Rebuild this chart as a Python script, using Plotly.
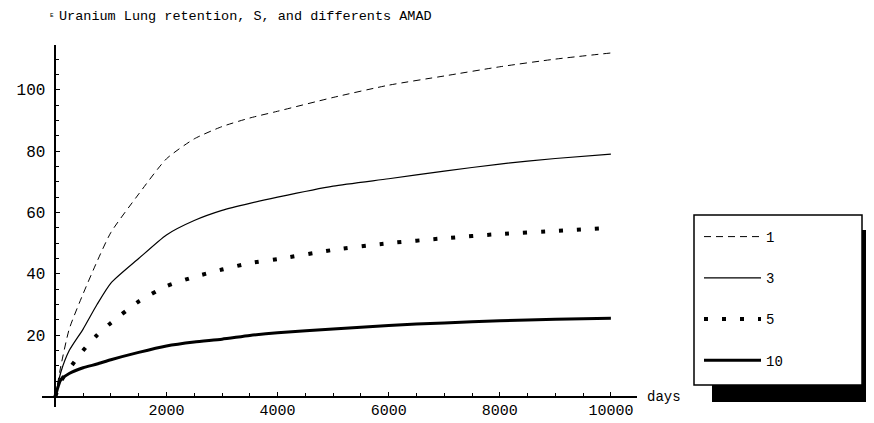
import plotly.graph_objects as go

days = [0, 100, 250, 500, 750, 1000, 1500, 2000, 2500, 3000, 3500, 4000, 5000, 6000, 7000, 8000, 9000, 10000]
amad_1 = [0, 10, 22, 33.5, 44, 53.5, 66, 77.5, 84, 88, 90.8, 93, 97.5, 101.5, 104.5, 107.5, 110, 112]
amad_3 = [0, 8, 15, 22, 30, 37, 45, 52.7, 57.4, 60.7, 63, 65, 68.6, 71, 73.5, 75.8, 77.6, 79]
amad_5 = [0, 5, 9, 15, 20, 24, 31, 36, 39, 41.4, 43.5, 44.8, 47.8, 50, 51.6, 53, 54, 55]
amad_10 = [0, 5.5, 7.5, 9.4, 10.6, 12, 14.4, 16.5, 17.8, 18.7, 19.9, 20.8, 22, 23.2, 24, 24.7, 25.2, 25.5]

x_ticks = [2000, 4000, 6000, 8000, 10000]
x_tick_text = ["2000", "4000", "6000", "8000", "10000"]
y_ticks = [20, 40, 60, 80, 100]
y_tick_text = ["20", "40", "60", "80", "100"]
names = ["1", "3", "5", "10"]

title_text = "Uranium Lung retention, S, and differents AMAD"
x_label = "days"

FONT = "Liberation Mono"

# page pixel helpers (page has an 8px body margin)
PL, PR_W, PT, PH = 42, 595, 45, 362  # plot left, width, top, height in page px


def px(X):
    return (X - PL) / PR_W


def py(Y):
    return (PT + PH - Y) / PH


fig = go.Figure()
styles = [
    dict(width=1, dash="7px,5px"),
    dict(width=1.2, dash="solid"),
    dict(width=4, dash="4px,14px"),
    dict(width=3, dash="solid"),
]
for nm, ys, st in zip(names, [amad_1, amad_3, amad_5, amad_10], styles):
    fig.add_trace(go.Scatter(
        x=days, y=ys, mode="lines", name=nm, legendgroup=nm,
        line=dict(color="black", shape="spline", smoothing=0.6, **st),
    ))

x_range = [-240, 10470]
y_range = [-3.4, 114.6]

fig.update_layout(
    width=866, height=415,
    margin=dict(l=34, r=866 - 34 - PR_W, t=37, b=415 - 37 - PH, autoexpand=False),
    paper_bgcolor="white", plot_bgcolor="white",
    font=dict(family=FONT, size=14, color="black"),
    showlegend=True,
    legend=dict(
        x=px(699), y=py(221), xanchor="left", yanchor="top",
        bgcolor="rgba(0,0,0,0)", borderwidth=0,
        font=dict(family=FONT, size=14, color="black"),
        tracegroupgap=20, itemwidth=57,
    ),
    xaxis=dict(
        range=x_range, showgrid=False, zeroline=False,
        showline=True, linecolor="black", linewidth=1.5,
        anchor="free", position=(0 - y_range[0]) / (y_range[1] - y_range[0]),
        tickmode="array", tickvals=x_ticks, ticktext=x_tick_text,
        ticks="inside", ticklen=4, tickcolor="black",
        minor=dict(dtick=500, tick0=0, ticks="inside", ticklen=3, tickcolor="black"),
        tickfont=dict(family=FONT, size=15, color="black"),
        automargin=False,
    ),
    yaxis=dict(
        range=y_range, showgrid=False, zeroline=False,
        showline=True, linecolor="black", linewidth=1.5,
        anchor="free", position=(0 - x_range[0]) / (x_range[1] - x_range[0]),
        tickmode="array", tickvals=y_ticks, ticktext=y_tick_text,
        ticks="inside", ticklen=4, tickcolor="black",
        minor=dict(dtick=5, tick0=0, ticks="inside", ticklen=3, tickcolor="black"),
        tickfont=dict(family=FONT, size=16, color="black"),
        ticklabelstandoff=6,
        automargin=False,
    ),
    shapes=[
        dict(type="rect", xref="paper", yref="paper",
             x0=px(712), x1=px(900), y0=py(402), y1=py(230),
             fillcolor="black", line=dict(width=0), layer="below"),
        dict(type="rect", xref="paper", yref="paper",
             x0=px(694), x1=px(862), y0=py(385), y1=py(215),
             fillcolor="white", line=dict(color="black", width=1.5), layer="below"),
    ],
    annotations=[
        dict(text=title_text, xref="paper", yref="paper", x=px(57), y=py(16),
             xanchor="left", yanchor="middle", showarrow=False,
             font=dict(family=FONT, size=13.5, color="black")),
        dict(text="E", xref="paper", yref="paper", x=px(52), y=py(15),
             xanchor="center", yanchor="middle", showarrow=False,
             font=dict(family=FONT, size=6, color="black")),
        dict(text=x_label, xref="paper", yref="paper", x=px(645), y=py(397),
             xanchor="left", yanchor="middle", showarrow=False,
             font=dict(family=FONT, size=14, color="black")),
    ],
)

fig.write_html("out.html")
